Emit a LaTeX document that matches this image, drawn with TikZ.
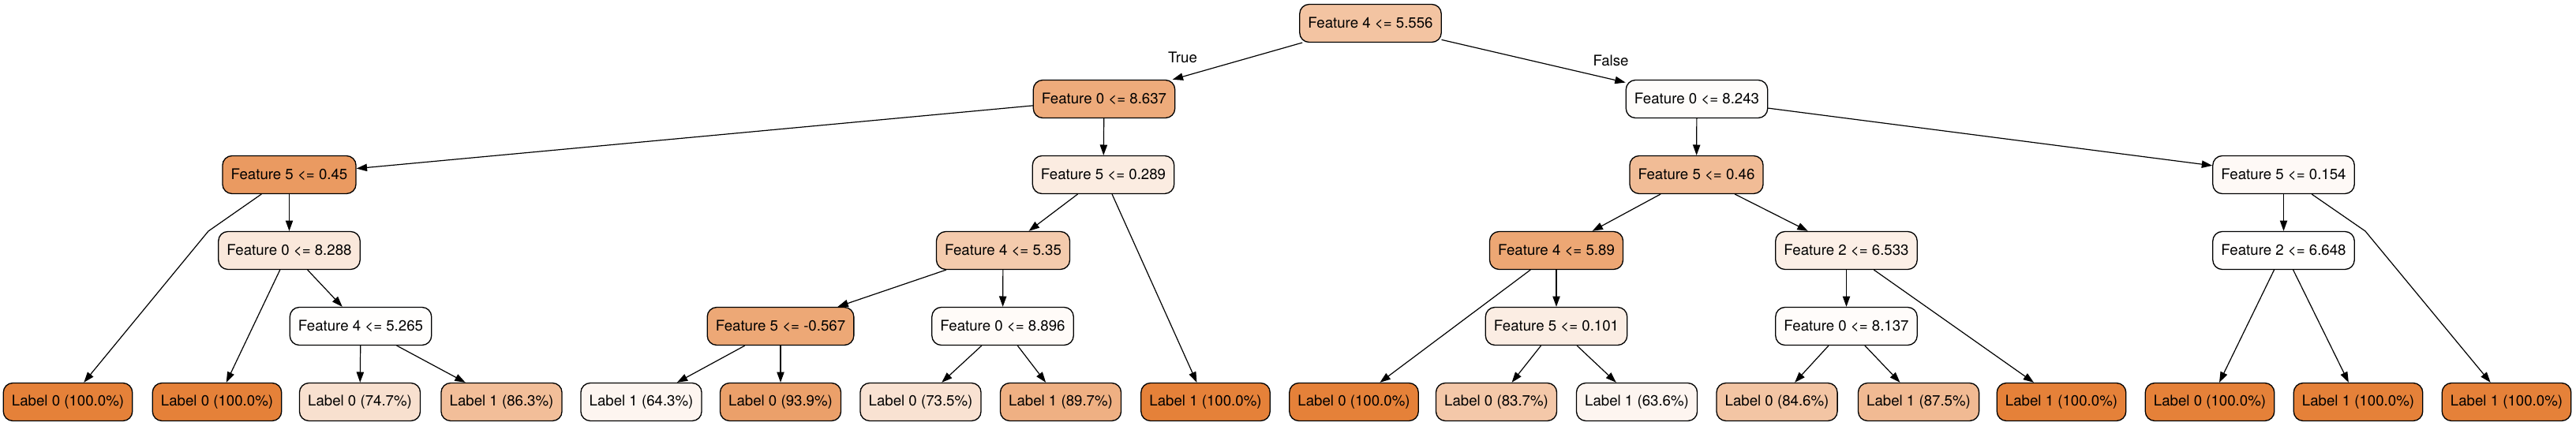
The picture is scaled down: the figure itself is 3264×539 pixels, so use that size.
\documentclass[tikz,border=0pt]{standalone}
\usepackage{fontspec}
\setmainfont{TeX Gyre Heros}
\usepackage{tikz}
\usetikzlibrary{arrows.meta}

\definecolor{cfull}{HTML}{E58139}
\definecolor{croot}{HTML}{F3C4A2}
\definecolor{ca}{HTML}{EEAB7B}
\definecolor{cb}{HTML}{FEFCFA}
\definecolor{caa}{HTML}{EA9A61}
\definecolor{cab}{HTML}{FBECE1}
\definecolor{cba}{HTML}{F1BC96}
\definecolor{cbb}{HTML}{FEF9F6}
\definecolor{caab}{HTML}{FAE8DB}
\definecolor{caba}{HTML}{F4CBAD}
\definecolor{cbaa}{HTML}{EDA774}
\definecolor{cbab}{HTML}{FCEFE6}
\definecolor{cbba}{HTML}{FFFEFD}
\definecolor{caabb}{HTML}{FFFEFD}
\definecolor{cabaa}{HTML}{EDA876}
\definecolor{cabab}{HTML}{FFFBF8}
\definecolor{cbaab}{HTML}{FBEDE3}
\definecolor{cbaba}{HTML}{FFFCFA}
\definecolor{cl3}{HTML}{F8E0CF}
\definecolor{cl4}{HTML}{F2BE99}
\definecolor{cl5}{HTML}{FDF5F0}
\definecolor{cl6}{HTML}{EBA06A}
\definecolor{cl7}{HTML}{F9E2D2}
\definecolor{cl8}{HTML}{EFB083}
\definecolor{cl11}{HTML}{F4C8A9}
\definecolor{cl12}{HTML}{FDF5F0}
\definecolor{cl13}{HTML}{F3C5A4}
\definecolor{cl14}{HTML}{F1BA93}

\begin{document}
\begin{tikzpicture}[line cap=round,line join=round,>={Triangle[length=10pt,width=7pt]},x=0.75pt,y=-0.75pt,
  box/.style={draw,line width=1pt,rounded corners=9pt,minimum height=36pt,inner xsep=8pt,inner ysep=0pt,
    font=\fontsize{14}{16}\selectfont},
  elabel/.style={font=\fontsize{14}{16}\selectfont,inner sep=0pt},
  edge/.style={->,line width=0.9pt}]

\useasboundingbox (0,0) rectangle (3264,539);

\draw (1736.5,29.5) node[box,fill=croot] (n0) {Feature 4 <= 5.556};
\draw (1399,125.5) node[box,fill=ca] (na) {Feature 0 <= 8.637};
\draw (2150,125.5) node[box,fill=cb] (nb) {Feature 0 <= 8.243};
\draw (366.5,221.5) node[box,fill=caa] (naa) {Feature 5 <= 0.45};
\draw (1398,221.5) node[box,fill=cab] (nab) {Feature 5 <= 0.289};
\draw (2149.5,221.5) node[box,fill=cba] (nba) {Feature 5 <= 0.46};
\draw (2893.5,221.5) node[box,fill=cbb] (nbb) {Feature 5 <= 0.154};
\draw (366.5,317.5) node[box,fill=caab] (naab) {Feature 0 <= 8.288};
\draw (1271,317.5) node[box,fill=caba] (naba) {Feature 4 <= 5.35};
\draw (1972,317.5) node[box,fill=cbaa] (nbaa) {Feature 4 <= 5.89};
\draw (2339.5,317.5) node[box,fill=cbab] (nbab) {Feature 2 <= 6.533};
\draw (2893.5,317.5) node[box,fill=cbba] (nbba) {Feature 2 <= 6.648};
\draw (457,413.5) node[box,fill=caabb] (naabb) {Feature 4 <= 5.265};
\draw (989,413.5) node[box,fill=cabaa] (nabaa) {Feature 5 <= -0.567};
\draw (1270.5,413.5) node[box,fill=cabab] (nabab) {Feature 0 <= 8.896};
\draw (1972,413.5) node[box,fill=cbaab] (nbaab) {Feature 5 <= 0.101};
\draw (2339.5,413.5) node[box,fill=cbaba] (nbaba) {Feature 0 <= 8.137};

\draw (86,509.5) node[box,fill=cfull] (l1) {Label 0 (100.0\%)};
\draw (275,509.5) node[box,fill=cfull] (l2) {Label 0 (100.0\%)};
\draw (456,509.5) node[box,fill=cl3] (l3) {Label 0 (74.7\%)};
\draw (635.5,509.5) node[box,fill=cl4] (l4) {Label 1 (86.3\%)};
\draw (812.5,509.5) node[box,fill=cl5] (l5) {Label 1 (64.3\%)};
\draw (989,509.5) node[box,fill=cl6] (l6) {Label 0 (93.9\%)};
\draw (1166.5,509.5) node[box,fill=cl7] (l7) {Label 0 (73.5\%)};
\draw (1344,509.5) node[box,fill=cl8] (l8) {Label 1 (89.7\%)};
\draw (1527.5,509.5) node[box,fill=cfull] (l9) {Label 1 (100.0\%)};
\draw (1715.5,509.5) node[box,fill=cfull] (l10) {Label 0 (100.0\%)};
\draw (1896,509.5) node[box,fill=cl11] (l11) {Label 0 (83.7\%)};
\draw (2074,509.5) node[box,fill=cl12] (l12) {Label 1 (63.6\%)};
\draw (2251.5,509.5) node[box,fill=cl13] (l13) {Label 0 (84.6\%)};
\draw (2431,509.5) node[box,fill=cl14] (l14) {Label 1 (87.5\%)};
\draw (2612,509.5) node[box,fill=cfull] (l15) {Label 1 (100.0\%)};
\draw (2800,509.5) node[box,fill=cfull] (l16) {Label 0 (100.0\%)};
\draw (2988,509.5) node[box,fill=cfull] (l17) {Label 1 (100.0\%)};
\draw (3176,509.5) node[box,fill=cfull] (l18) {Label 1 (100.0\%)};

\draw (1498.5,73) node[elabel] (lt) {True};
\draw (2041,77) node[elabel] (lf) {False};

\coordinate (k1) at (264,293);
\coordinate (k2) at (2997,293);

\draw [edge] (n0) -- (na);
\draw [edge] (n0) -- (nb);
\draw [edge] (na) -- (naa);
\draw [edge] (na) -- (nab);
\draw [edge] (nb) -- (nba);
\draw [edge] (nb) -- (nbb);
\draw [edge] (naa) -- (k1) -- (l1);
\draw [edge] (naa) -- (naab);
\draw [edge] (naab) -- (l2);
\draw [edge] (naab) -- (naabb);
\draw [edge] (naabb) -- (l3);
\draw [edge] (naabb) -- (l4);
\draw [edge] (nab) -- (naba);
\draw [edge] (nab) -- (l9);
\draw [edge] (naba) -- (nabaa);
\draw [edge] (naba) -- (nabab);
\draw [edge] (nabaa) -- (l5);
\draw [edge] (nabaa) -- (l6);
\draw [edge] (nabab) -- (l7);
\draw [edge] (nabab) -- (l8);
\draw [edge] (nba) -- (nbaa);
\draw [edge] (nba) -- (nbab);
\draw [edge] (nbaa) -- (l10);
\draw [edge] (nbaa) -- (nbaab);
\draw [edge] (nbaab) -- (l11);
\draw [edge] (nbaab) -- (l12);
\draw [edge] (nbab) -- (nbaba);
\draw [edge] (nbab) -- (l15);
\draw [edge] (nbaba) -- (l13);
\draw [edge] (nbaba) -- (l14);
\draw [edge] (nbb) -- (nbba);
\draw [edge] (nbb) -- (k2) -- (l18);
\draw [edge] (nbba) -- (l16);
\draw [edge] (nbba) -- (l17);
\end{tikzpicture}
\end{document}
